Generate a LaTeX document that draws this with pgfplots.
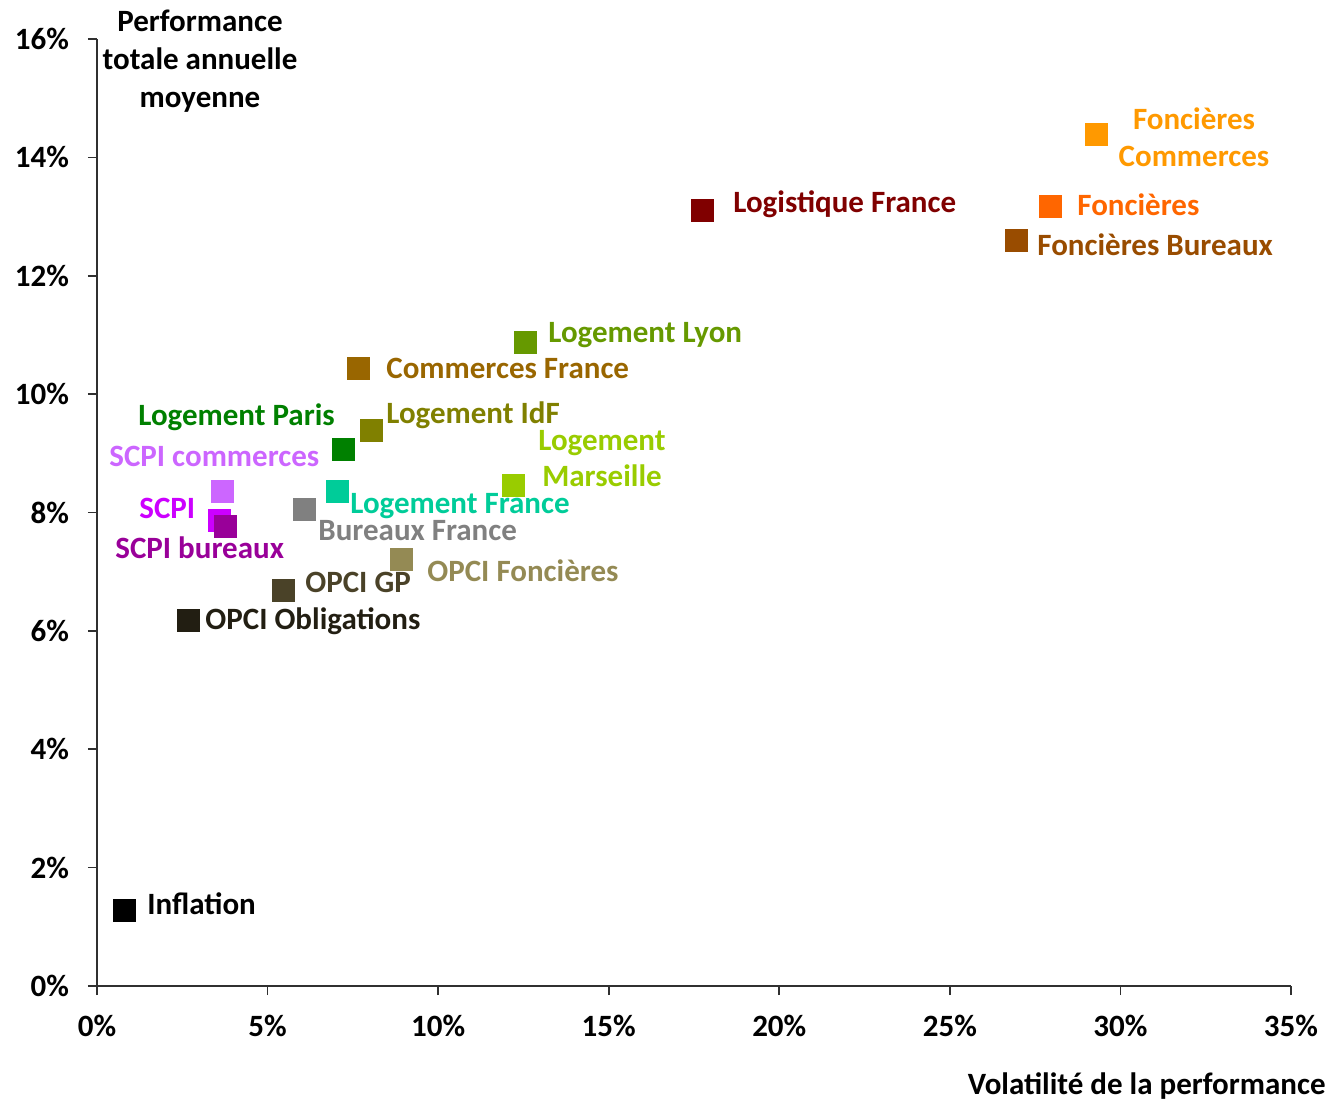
\documentclass[border=0pt]{standalone}
\usepackage{fontspec}
\setmainfont{Carlito}
\usepackage{pgfplots}
\pgfplotsset{compat=1.18}

% series colours
\definecolor{axisgray}{HTML}{303030}
\definecolor{cInfl}{HTML}{000000}
\definecolor{cOblig}{HTML}{221E12}
\definecolor{cGP}{HTML}{4A4228}
\definecolor{cOFonc}{HTML}{948A54}
\definecolor{cBur}{HTML}{808080}
\definecolor{cSCPI}{HTML}{CC00FF}
\definecolor{cSCPIbur}{HTML}{990099}
\definecolor{cSCPIcom}{HTML}{CC66FF}
\definecolor{cLogFr}{HTML}{00CC99}
\definecolor{cLogPar}{HTML}{008000}
\definecolor{cLogIdF}{HTML}{808000}
\definecolor{cComFr}{HTML}{996600}
\definecolor{cLogLyon}{HTML}{669900}
\definecolor{cLogMars}{HTML}{99CC00}
\definecolor{cLogist}{HTML}{800000}
\definecolor{cFonc}{HTML}{FF6600}
\definecolor{cFoncBur}{HTML}{994C00}
\definecolor{cFoncCom}{HTML}{FF9900}

\tikzset{
  lab/.style={font=\fontsize{15.5}{18}\selectfont\bfseries, inner sep=0pt},
}
\pgfplotsset{
  pt/.style={only marks, mark=square*, mark size=5.5pt,
    mark options={draw=#1, fill=#1}, color=#1},
}

\begin{document}
\begin{tikzpicture}
\begin{axis}[
  scale only axis, width=597pt, height=473.5pt,
  xmin=0, xmax=35, ymin=0, ymax=16,
  axis lines=left,
  axis line style={-, draw=axisgray, line width=0.8pt},
  xtick={0,5,...,35}, ytick={0,2,...,16},
  tick align=outside, major tick length=4.5pt,
  tick style={draw=axisgray, line width=0.8pt},
  /pgf/number format/assume math mode=true,
  xticklabel={\pgfmathprintnumber{\tick}\%},
  yticklabel={\pgfmathprintnumber{\tick}\%},
  tick label style={font=\fontsize{15.5}{18}\selectfont\bfseries},
  xticklabel style={yshift=-6.5pt},
  yticklabel style={xshift=-6pt},
  clip=false,
]
% volatility (%) vs. average annual total return (%)
\addplot[pt=cInfl]    coordinates {(0.79,1.27)};
\addplot[pt=cOblig]   coordinates {(2.67,6.17)};
\addplot[pt=cGP]      coordinates {(5.47,6.69)};
\addplot[pt=cOFonc]   coordinates {(8.91,7.21)};
\addplot[pt=cBur]     coordinates {(6.08,8.05)};
\addplot[pt=cSCPI]    coordinates {(3.58,7.87)};
\addplot[pt=cSCPIbur] coordinates {(3.77,7.77)};
\addplot[pt=cSCPIcom] coordinates {(3.68,8.36)};
\addplot[pt=cLogFr]   coordinates {(7.06,8.36)};
\addplot[pt=cLogPar]  coordinates {(7.21,9.07)};
\addplot[pt=cLogIdF]  coordinates {(8.03,9.39)};
\addplot[pt=cComFr]   coordinates {(7.65,10.44)};
\addplot[pt=cLogLyon] coordinates {(12.56,10.87)};
\addplot[pt=cLogMars] coordinates {(12.22,8.46)};
\addplot[pt=cLogist]  coordinates {(17.76,13.11)};
\addplot[pt=cFoncBur] coordinates {(26.94,12.59)};
\addplot[pt=cFonc]    coordinates {(27.94,13.18)};
\addplot[pt=cFoncCom] coordinates {(29.31,14.38)};

% point labels
\node[lab, text=cInfl,    anchor=base west] at (axis cs:1.466,1.216)  {Inflation};
\node[lab, text=cOblig,   anchor=base west] at (axis cs:3.166,6.015)  {OPCI Obligations};
\node[lab, text=cGP,      anchor=base west] at (axis cs:6.097,6.640)  {OPCI GP};
\node[lab, text=cOFonc,   anchor=base west] at (axis cs:9.673,6.826)  {OPCI Foncières};
\node[lab, text=cBur,     anchor=base west] at (axis cs:6.478,7.535)  {Bureaux France};
\node[lab, text=cSCPI,    anchor=base west] at (axis cs:1.231,7.907)  {SCPI};
\node[lab, text=cSCPIbur, anchor=base west] at (axis cs:0.528,7.231)  {SCPI bureaux};
\node[lab, text=cSCPIcom, anchor=base west] at (axis cs:0.352,8.785)  {SCPI commerces};
\node[lab, text=cLogFr,   anchor=base west] at (axis cs:7.416,7.991)  {Logement France};
\node[lab, text=cLogPar,  anchor=base west] at (axis cs:1.202,9.478)  {Logement Paris};
\node[lab, text=cLogIdF,  anchor=base west] at (axis cs:8.472,9.512)  {Logement IdF};
\node[lab, text=cComFr,   anchor=base west] at (axis cs:8.472,10.272) {Commerces France};
\node[lab, text=cLogLyon, anchor=base west] at (axis cs:13.220,10.880) {Logement Lyon};
\node[lab, text=cLogMars, anchor=base] at (axis cs:14.803,9.056) {Logement};
\node[lab, text=cLogMars, anchor=base] at (axis cs:14.803,8.431) {Marseille};
\node[lab, text=cLogist,  anchor=base west] at (axis cs:18.643,13.077) {Logistique France};
\node[lab, text=cFonc,    anchor=base west] at (axis cs:28.727,13.026) {Foncières};
\node[lab, text=cFoncBur, anchor=base west] at (axis cs:27.555,12.350) {Foncières Bureaux};
\node[lab, text=cFoncCom, anchor=base] at (axis cs:32.157,14.479) {Foncières};
\node[lab, text=cFoncCom, anchor=base] at (axis cs:32.157,13.854) {Commerces};

% axis titles
\node[lab, anchor=base] at (axis cs:3.019,16.134) {Performance};
\node[lab, anchor=base] at (axis cs:3.019,15.492) {totale annuelle};
\node[lab, anchor=base] at (axis cs:3.019,14.850) {moyenne};
\node[lab, anchor=base east] at (axis cs:36.026,-1.825) {Volatilité de la performance};
\end{axis}
\pgfresetboundingbox
\useasboundingbox (-48.5pt,-56.5pt) rectangle (615.5pt,493pt);
\end{tikzpicture}
\end{document}
